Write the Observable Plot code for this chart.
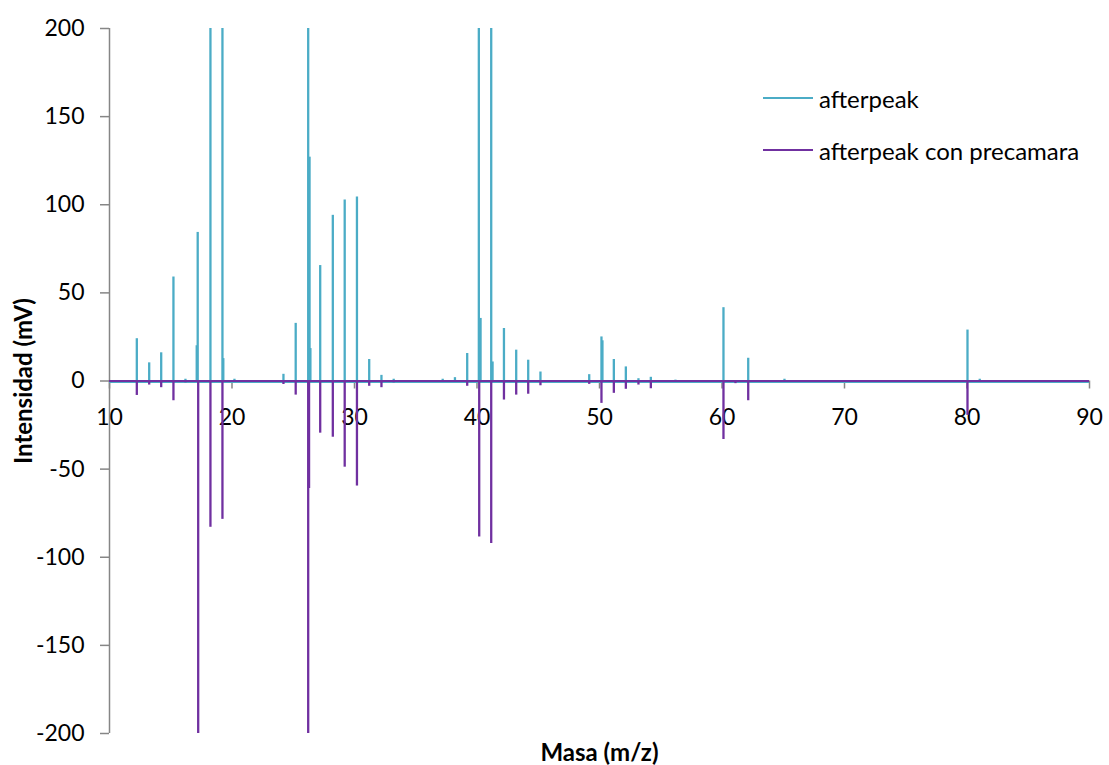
<!DOCTYPE html>
<html>
<head>
<meta charset="utf-8">
<script src="https://cdn.jsdelivr.net/npm/d3@7"></script>
<script src="https://cdn.jsdelivr.net/npm/@observablehq/plot@0.6"></script>
<style>
  body { margin: 0; background: #fff; font-family: Lato, "Open Sans", sans-serif; }
  #wrap { position: relative; width: 1109px; height: 765px; }
  #legend { position: absolute; left: 763px; top: 72px; font-size: 24px; color: #000; }
  .item { display: flex; align-items: center; height: 52px; }
  .swatch { width: 50px; height: 2px; margin-right: 6px; }
  [aria-label="y-axis label"], [aria-label="x-axis label"] { font-weight: bold; font-size: 24px; }
</style>
</head>
<body>
<div id="wrap"><div id="legend"></div></div>
<script>
// Series names
const seriesNames = ["afterpeak", "afterpeak con precamara"];
const seriesColors = ["#4bacc6", "#7030a0"];

// afterpeak (positive spikes), mass m/z and intensity mV (values above 200 are clipped in the picture)
const afterMass = [12.23, 13.24, 14.22, 15.22, 16.2, 17.12, 17.2, 18.24, 19.22, 19.29, 20.2, 24.2, 25.2, 26.22, 26.33, 26.4, 27.2, 28.23, 29.2, 30.2, 31.2, 32.2, 33.2, 37.2, 38.2, 39.2, 40.15, 40.29, 41.16, 41.27, 42.2, 43.2, 44.18, 45.18, 49.16, 50.16, 50.24, 51.17, 52.15, 53.18, 54.19, 56.2, 60.12, 62.14, 65.1, 80.04, 81.04];
const afterInt  = [24, 10.3, 16, 59, 1, 20, 84.3, 250, 230, 12.7, 1, 3.8, 32.7, 260, 127, 18.4, 65.5, 94, 102.7, 104.4, 12.2, 3.2, 1, 1, 1.9, 15.6, 240, 35.5, 220, 10.8, 29.8, 17.5, 11.8, 5.1, 3.6, 25, 22.8, 12.2, 8, 1.3, 2.1, 0.5, 41.6, 12.9, 1, 28.9, 1];

// afterpeak con precamara (negative spikes)
const preMass = [12.23, 13.24, 14.22, 15.22, 16.2, 17.24, 18.24, 19.22, 24.2, 25.2, 26.22, 26.29, 27.2, 28.23, 29.2, 30.2, 31.2, 32.2, 33.2, 39.2, 40.18, 41.16, 42.2, 43.2, 44.18, 45.18, 49.16, 50.16, 51.17, 52.15, 53.18, 54.19, 56.2, 60.12, 61.1, 62.14, 65.1, 80.04, 81.04];
const preInt  = [-8.2, -2.3, -3.8, -11.2, -1, -240, -83, -78.5, -2, -8, -230, -61, -29.6, -31.9, -48.9, -59.6, -3, -3.8, -1, -3, -88.5, -92.2, -10.8, -8, -7.5, -2.7, -1.9, -12.7, -7, -4.7, -2.3, -4.4, -0.5, -33.2, -1.5, -11.2, -0.8, -19.5, -0.8];

// axis ticks
const xTicks = [10, 20, 30, 40, 50, 60, 70, 80, 90];
const yTicks = [-200, -150, -100, -50, 0, 50, 100, 150, 200];

const afterData = afterMass.map((m, i) => ({mass: m, value: afterInt[i]}));
const preData = preMass.map((m, i) => ({mass: m, value: preInt[i]}));

const axisGray = "#868686";
const W = 1109, H = 765, mB = 32;

const chart = Plot.plot({
  width: W, height: H,
  marginLeft: 109, marginRight: 20, marginTop: 28, marginBottom: mB,
  style: {fontFamily: "Lato, 'Open Sans', sans-serif", fontSize: "23px", color: "#000", background: "#fff", overflow: "visible"},
  x: {domain: [10, 90]},
  y: {domain: [-200, 200]},
  marks: [
    Plot.ruleX([10], {stroke: axisGray, strokeWidth: 1.5}),
    Plot.ruleY([0], {stroke: axisGray, strokeWidth: 1.5}),
    Plot.axisY({ticks: yTicks, tickFormat: d => String(d), tickSize: 9, tickPadding: 16, stroke: axisGray, strokeWidth: 1.5, label: "Intensidad (mV)", labelAnchor: "center", labelArrow: false, labelOffset: 95}),
    Plot.axisX({ticks: xTicks, tickFormat: d => String(d), anchor: "bottom", tickSize: 8, tickPadding: 20, stroke: axisGray, strokeWidth: 1.5, label: "Masa (m/z)", labelAnchor: "center", labelArrow: false, labelOffset: 27}),
    Plot.ruleY([0], {stroke: seriesColors[0], strokeWidth: 2, dy: 1}),
    Plot.ruleX(afterData, {x: "mass", y1: 0, y2: "value", stroke: seriesColors[0], strokeWidth: 2.3, clip: true}),
    Plot.ruleX(preData, {x: "mass", y1: 0, y2: "value", stroke: seriesColors[1], strokeWidth: 2.3, clip: true}),
    Plot.ruleY([0], {stroke: seriesColors[1], strokeWidth: 2})
  ]
});

// move the x-axis ticks and tick labels to the y = 0 line
const y0 = chart.scale("y").apply(0);
const shift = y0 - (H - mB);
chart.querySelectorAll('[aria-label="x-axis tick"], [aria-label="x-axis tick label"]').forEach(g => {
  g.setAttribute("transform", `translate(0,${shift}) ${g.getAttribute("transform") || ""}`);
});

document.getElementById("wrap").prepend(chart);

const legend = document.getElementById("legend");
seriesNames.forEach((name, i) => {
  const item = document.createElement("div");
  item.className = "item";
  const sw = document.createElement("span");
  sw.className = "swatch";
  sw.style.background = seriesColors[i];
  const t = document.createElement("span");
  t.textContent = name;
  item.append(sw, t);
  legend.append(item);
});
</script>
</body>
</html>
